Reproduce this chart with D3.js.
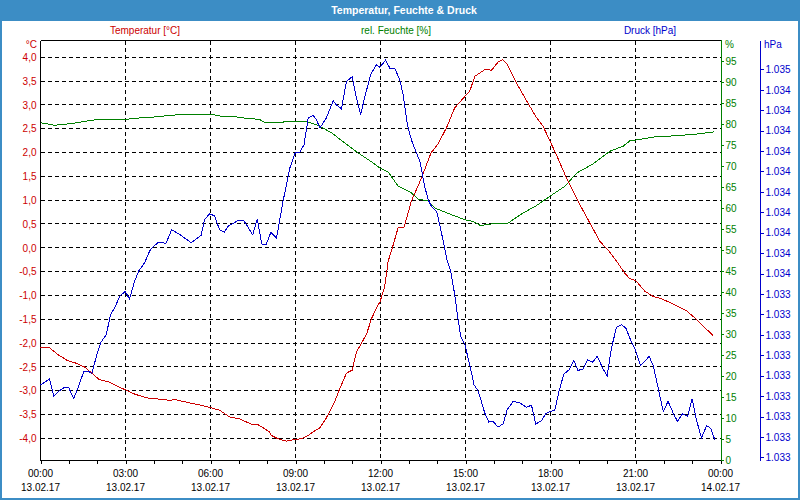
<!DOCTYPE html>
<html><head><meta charset="utf-8">
<script src="https://cdn.jsdelivr.net/npm/d3@7"></script>
<style>body{margin:0;background:#fff}svg{display:block;font-family:"Liberation Sans",Arial,sans-serif}</style>
</head><body><svg id="c" width="800" height="500"></svg>
<script>
const chartTitle = "Temperatur, Feuchte & Druck";
const seriesNames = ["Temperatur [°C]", "rel. Feuchte [%]", "Druck [hPa]"];
const xTickHours = [0, 3, 6, 9, 12, 15, 18, 21, 24];
const xTickTimes = ["00:00", "03:00", "06:00", "09:00", "12:00", "15:00", "18:00", "21:00", "00:00"];
const xTickDates = ["13.02.17", "13.02.17", "13.02.17", "13.02.17", "13.02.17", "13.02.17", "13.02.17", "13.02.17", "14.02.17"];
const tempTicks = [-4, -3.5, -3, -2.5, -2, -1.5, -1, -0.5, 0, 0.5, 1, 1.5, 2, 2.5, 3, 3.5, 4];
const humTicks = [0, 5, 10, 15, 20, 25, 30, 35, 40, 45, 50, 55, 60, 65, 70, 75, 80, 85, 90, 95];
const pressTicks = [1032.6, 1032.7, 1032.8, 1032.9, 1033.0, 1033.1, 1033.2, 1033.3, 1033.4, 1033.5, 1033.6, 1033.7, 1033.8, 1033.9, 1034.0, 1034.1, 1034.2, 1034.3, 1034.4, 1034.5];

const tempHours = [0,0.32,0.61,0.96,1.2,1.55,1.85,2.08,2.44,2.73,2.99,3.32,3.73,4.08,4.55,4.79,5.14,5.55,5.97,6.32,6.67,7.02,7.43,7.67,7.92,8.09,8.15,8.39,8.68,8.98,9.21,9.45,9.68,9.86,10.09,10.39,10.56,10.8,11.0,11.15,11.51,11.68,11.86,11.98,12.15,12.27,12.41,12.62,12.83,13.09,13.45,13.78,14.03,14.33,14.62,14.98,15.15,15.33,15.68,15.92,16.15,16.31,16.45,16.8,17.27,17.51,17.74,18.21,18.56,18.97,19.39,19.74,20.09,20.33,20.62,20.8,21.01,21.33,21.62,21.92,22.33,22.8,23.09,23.45,23.74];
const tempValues = [-2.09,-2.10,-2.24,-2.37,-2.41,-2.50,-2.65,-2.77,-2.82,-2.91,-2.98,-3.07,-3.15,-3.17,-3.20,-3.19,-3.24,-3.29,-3.35,-3.41,-3.55,-3.59,-3.70,-3.71,-3.80,-3.87,-3.94,-4.01,-4.06,-4.02,-4.01,-3.94,-3.84,-3.78,-3.57,-3.22,-2.96,-2.63,-2.57,-2.19,-1.81,-1.49,-1.26,-1.14,-0.81,-0.28,-0.02,0.42,0.43,0.98,1.47,1.99,2.18,2.52,2.94,3.18,3.29,3.60,3.74,3.73,3.90,3.95,3.87,3.46,2.97,2.73,2.55,1.95,1.47,0.98,0.52,0.14,-0.09,-0.28,-0.53,-0.65,-0.69,-0.91,-1.02,-1.07,-1.18,-1.32,-1.47,-1.68,-1.84];

const humHours = [0,0.5,1.08,1.55,2.02,2.79,2.99,3.43,4.08,4.61,5.26,6.02,6.43,6.9,7.2,7.73,7.85,8.09,8.56,8.6,9.33,9.57,9.8,10.27,10.74,11.21,11.68,11.98,12.27,12.62,13.09,13.33,13.68,13.92,14.51,14.98,15.27,15.51,15.8,16.03,16.5,17.03,17.51,17.98,18.51,18.92,19.5,20.09,20.56,20.8,21.04,21.74,22.45,23.15,23.76];
const humValues = [80.3,79.7,80.1,80.6,81.1,81.0,81.1,81.4,81.7,82.1,82.3,82.3,81.8,81.7,81.4,81.1,80.5,80.3,80.4,80.7,80.7,80.2,79.7,77.9,75.5,73.1,71.0,69.5,68.6,65.2,63.6,62.1,61.7,60.0,58.4,57.2,56.8,55.9,56.0,56.4,56.4,58.8,60.6,62.8,65.2,68.3,70.5,73.5,74.7,76.0,76.2,77.0,77.2,77.6,78.1];

const pressHours = [0,0.14,0.32,0.47,0.64,0.85,0.99,1.17,1.32,1.53,1.73,1.81,1.91,2.02,2.14,2.32,2.47,2.63,2.79,2.99,3.14,3.32,3.47,3.67,3.82,3.9,4.17,4.43,4.63,4.96,5.32,5.67,5.79,5.97,6.14,6.32,6.49,6.61,6.96,7.18,7.49,7.65,7.81,7.96,8.13,8.33,8.56,8.8,9.0,9.15,9.3,9.45,9.62,9.74,9.86,10.09,10.33,10.44,10.62,10.8,11.0,11.15,11.3,11.45,11.66,11.86,11.98,12.18,12.33,12.5,12.68,12.8,12.95,13.09,13.27,13.39,13.56,13.68,13.8,13.98,14.09,14.27,14.33,14.48,14.62,14.74,14.83,14.98,15.15,15.3,15.44,15.56,15.68,15.82,15.97,16.15,16.33,16.47,16.68,16.92,17.15,17.33,17.48,17.68,17.83,17.98,18.15,18.3,18.47,18.66,18.82,18.97,19.15,19.31,19.48,19.65,19.84,20.0,20.15,20.33,20.51,20.66,20.8,20.98,21.18,21.33,21.48,21.62,21.8,21.98,22.15,22.33,22.48,22.66,22.84,23.0,23.15,23.33,23.51,23.65,23.8];
const pressValues = [1032.956,1032.967,1032.985,1032.899,1032.923,1032.943,1032.943,1032.889,1032.939,1033.021,1033.018,1033.009,1033.062,1033.119,1033.165,1033.200,1033.298,1033.335,1033.388,1033.413,1033.375,1033.462,1033.514,1033.552,1033.600,1033.622,1033.654,1033.648,1033.715,1033.687,1033.651,1033.687,1033.764,1033.793,1033.783,1033.715,1033.703,1033.731,1033.759,1033.759,1033.690,1033.768,1033.645,1033.641,1033.702,1033.674,1033.854,1034.017,1034.095,1034.095,1034.131,1034.262,1034.275,1034.253,1034.213,1034.262,1034.346,1034.327,1034.307,1034.441,1034.464,1034.360,1034.278,1034.368,1034.477,1034.523,1034.510,1034.546,1034.506,1034.506,1034.449,1034.376,1034.229,1034.155,1034.090,1034.050,1033.927,1033.862,1033.829,1033.805,1033.739,1033.622,1033.576,1033.511,1033.396,1033.274,1033.193,1033.151,1033.053,1032.956,1032.926,1032.874,1032.817,1032.773,1032.776,1032.748,1032.765,1032.833,1032.874,1032.866,1032.846,1032.855,1032.763,1032.779,1032.814,1032.825,1032.830,1032.923,1033.008,1033.029,1033.075,1033.026,1033.032,1033.078,1033.065,1033.095,1033.037,1033.000,1033.135,1033.237,1033.249,1033.233,1033.184,1033.130,1033.051,1033.070,1033.095,1033.051,1032.939,1032.825,1032.874,1032.817,1032.776,1032.814,1032.801,1032.887,1032.784,1032.695,1032.755,1032.743,1032.686];

const RED = "#cc0000", GREEN = "#008000", BLUE = "#0000cc", FRAME = "#3c8dc5";
const svg = d3.select("#c");
const L = 40.5, R = 720.5, T = 40.5, B = 460.5;

// frame & title bar
svg.append("rect").attr("x", 0).attr("y", 0).attr("width", 800).attr("height", 500).attr("fill", FRAME);
svg.append("rect").attr("x", 2).attr("y", 21).attr("width", 796).attr("height", 477).attr("fill", "#fff");
svg.append("text").attr("x", 404).attr("y", 13.5).attr("text-anchor", "middle")
  .attr("fill", "#fff").attr("font-weight", "bold").attr("font-size", "10.5px").text(chartTitle);

const x = d3.scaleLinear().domain([0, 24]).range([L, R]);
const yT = d3.scaleLinear().domain([-4.455, 4.363]).range([460, 40]);
const yH = d3.scaleLinear().domain([0, 100]).range([460, 40]);
const yP = d3.scaleLinear().domain([1032.587, 1034.644]).range([460, 40]);

const snap = v => Math.round(v - 0.5) + 0.5;

// legend labels
const legendX = [145, 396, 650], legendC = [RED, GREEN, BLUE];
seriesNames.forEach((n, i) => svg.append("text").attr("x", legendX[i]).attr("y", 33.5)
  .attr("text-anchor", "middle").attr("font-size", "10px").attr("fill", legendC[i]).text(n));

// grid
const grid = svg.append("g").attr("stroke", "#000").attr("stroke-dasharray", "4,3").attr("shape-rendering", "crispEdges");
tempTicks.forEach(t => grid.append("line").attr("x1", L).attr("x2", R).attr("y1", snap(yT(t))).attr("y2", snap(yT(t))));
xTickHours.slice(1, -1).forEach(h => grid.append("line").attr("x1", snap(x(h))).attr("x2", snap(x(h))).attr("y1", T).attr("y2", B));

// plot frame
const fr = svg.append("g").attr("shape-rendering", "crispEdges").attr("fill", "none");
fr.append("line").attr("x1", L).attr("x2", R).attr("y1", T).attr("y2", T).attr("stroke", "#000");
fr.append("line").attr("x1", L).attr("x2", R).attr("y1", B).attr("y2", B).attr("stroke", "#000");
fr.append("line").attr("x1", L).attr("x2", L).attr("y1", T).attr("y2", B).attr("stroke", "#000");

// x axis
const xAxis = d3.axisBottom(x).tickValues(d3.range(0, 25)).tickSize(3).tickFormat("");
const gx = svg.append("g").attr("transform", `translate(0,${B})`).call(xAxis);
gx.select(".domain").remove();
gx.selectAll("line").attr("shape-rendering", "crispEdges");
xTickHours.forEach((h, i) => {
  svg.append("text").attr("x", x(h)).attr("y", 477).attr("text-anchor", "middle").attr("font-size", "10px").attr("fill", "#000").text(xTickTimes[i]);
  svg.append("text").attr("x", x(h)).attr("y", 491).attr("text-anchor", "middle").attr("font-size", "10px").attr("fill", "#000").text(xTickDates[i]);
});

// left axis (temperature)
const gT = svg.append("g").attr("transform", `translate(${L},0)`)
  .call(d3.axisLeft(yT).tickValues(tempTicks).tickSize(0).tickPadding(4).tickFormat(d => d3.format(".1f")(d).replace(".", ",").replace("−", "-")));
gT.select(".domain").remove();
gT.selectAll("text").attr("fill", RED).attr("font-size", "10px").attr("font-family", "Liberation Sans, Arial, sans-serif");
svg.append("text").attr("x", 37).attr("y", 48).attr("text-anchor", "end").attr("font-size", "10px").attr("fill", RED).text("°C");

// right axis (humidity)
const gH = svg.append("g").attr("transform", `translate(${R},0)`)
  .call(d3.axisRight(yH).tickValues(humTicks).tickSize(3).tickPadding(2).tickFormat(d => d));
gH.select(".domain").attr("stroke", GREEN).attr("d", `M0.5,${T - 0.5}V${B}`).attr("shape-rendering", "crispEdges");
gH.selectAll("line").attr("stroke", GREEN).attr("shape-rendering", "crispEdges");
gH.selectAll("text").attr("fill", GREEN).attr("font-size", "10px").attr("font-family", "Liberation Sans, Arial, sans-serif");
svg.append("text").attr("x", 725).attr("y", 48).attr("font-size", "10px").attr("fill", GREEN).text("%");

// far right axis (pressure)
const PX = 760.5;
const gP = svg.append("g").attr("transform", `translate(${PX},0)`)
  .call(d3.axisRight(yP).tickValues(pressTicks).tickSize(3).tickPadding(2).tickFormat(d => { const s = String(Math.round(d)); return s[0] + "." + s.slice(1); }));
gP.select(".domain").attr("stroke", BLUE).attr("d", `M0,${T}V${B}`).attr("shape-rendering", "crispEdges");
gP.selectAll("line").attr("stroke", BLUE).attr("shape-rendering", "crispEdges");
gP.selectAll("text").attr("fill", BLUE).attr("font-size", "10px").attr("font-family", "Liberation Sans, Arial, sans-serif");
svg.append("text").attr("x", 764).attr("y", 48).attr("font-size", "10px").attr("fill", BLUE).text("hPa");

// series lines
const drawLine = (hours, vals, yS, color) => {
  const line = d3.line().x((d, i) => x(hours[i])).y(d => yS(d));
  svg.append("path").datum(vals).attr("d", line).attr("fill", "none").attr("stroke", color).attr("stroke-width", 1).attr("shape-rendering", "crispEdges");
};
drawLine(humHours, humValues, yH, GREEN);
drawLine(tempHours, tempValues, yT, RED);
drawLine(pressHours, pressValues, yP, BLUE);
</script></body></html>
